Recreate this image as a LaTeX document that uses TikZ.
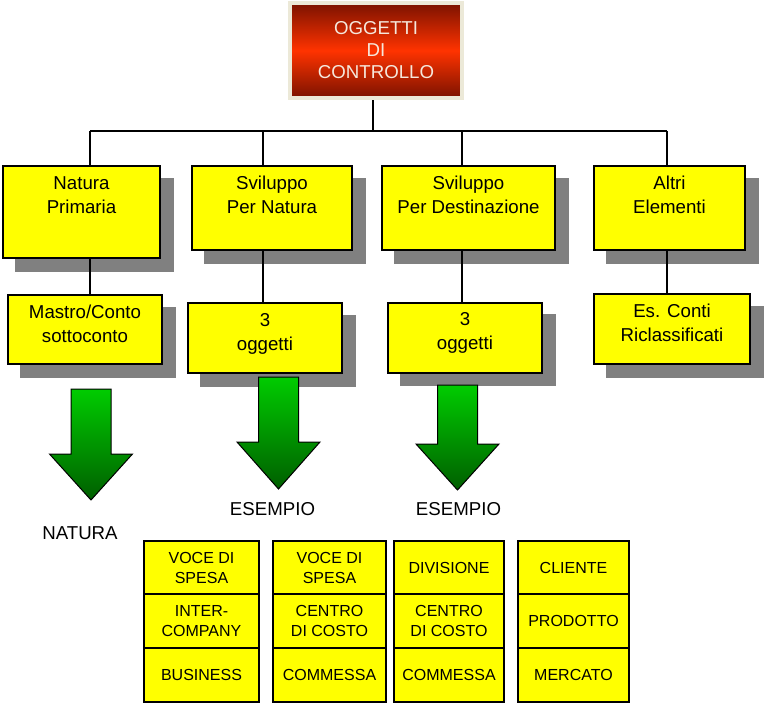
\documentclass[tikz,border=0pt]{standalone}
\usepackage{fontspec}
\setmainfont{Liberation Sans}
\usetikzlibrary{shadows}
\definecolor{boxyellow}{HTML}{FFFF00}
\definecolor{shadowgray}{HTML}{808080}
\definecolor{framebeige}{HTML}{ECE9D8}
\definecolor{reddark}{HTML}{7A1200}
\definecolor{redlight}{HTML}{FF3300}
\definecolor{greenlight}{HTML}{00CC00}
\definecolor{greendark}{HTML}{005E00}
\definecolor{titletext}{HTML}{F6E8DC}
\tikzset{
  capbox/.style={draw, line width=1.5pt, fill=boxyellow, inner sep=0pt,
    general shadow={fill=shadowgray, draw=shadowgray, line width=1.5pt,
      shadow xshift=9.5pt, shadow yshift=-9.5pt}},
  captext/.style={anchor=north, yshift=-5pt, align=center,
    font=\fontsize{14}{18}\selectfont},
  cell/.style={draw, line width=1.5pt, fill=boxyellow, minimum height=40.5pt,
    inner sep=0pt, align=center, font=\fontsize{12}{15}\selectfont},
  lbl/.style={font=\fontsize{14}{17}\selectfont},
  link/.style={line width=1.5pt},
  sublink/.style={line width=0.9pt}
}
\begin{document}
\begin{tikzpicture}[x=0.75pt, y=-0.75pt]
\useasboundingbox (0,0) rectangle (765,703);
% title
\node[draw=framebeige, line width=3pt, top color=reddark, bottom color=reddark,
  middle color=redlight, minimum width=129pt, minimum height=71.6pt, align=center,
  text=titletext, font=\fontsize{14}{16.5}\selectfont] (root) at (376,50.5)
  {OGGETTI\\DI\\CONTROLLO};

% first row
\node[capbox, minimum width=117.75pt, minimum height=69pt] (np) at (81.5,212) {};
\node[capbox, minimum width=120pt, minimum height=63pt] (sn) at (272,208) {};
\node[capbox, minimum width=129.75pt, minimum height=63pt] (sd) at (468.5,208) {};
\node[capbox, minimum width=113.25pt, minimum height=63pt] (ae) at (669.5,208) {};
\node[captext] (npt) at (np.north) {Natura\\Primaria};
\node[captext] (snt) at (sn.north) {Sviluppo\\Per Natura};
\node[captext] (sdt) at (sd.north) {Sviluppo\\Per Destinazione};
\node[captext] (aet) at (ae.north) {Altri\\Elementi};

% second row
\node[capbox, minimum width=115.5pt, minimum height=51.75pt] (mc) at (85,329.5) {};
\node[capbox, minimum width=115.5pt, minimum height=52.5pt] (on) at (265,338) {};
\node[capbox, minimum width=115.5pt, minimum height=52.5pt] (od) at (465,337.5) {};
\node[capbox, minimum width=117pt, minimum height=52.5pt] (ec) at (672,329) {};
\node[captext] (mct) at (mc.north) {Mastro/Conto\\sottoconto};
\node[captext] (ont) at (on.north) {3\\oggetti};
\node[captext] (odt) at (od.north) {3\\oggetti};
\node[captext] (ect) at (ec.north) {Es. Conti\\Riclassificati};

% connectors
\coordinate (bus) at (373,131);
\coordinate (j1) at (90,131);
\coordinate (j2) at (263,131);
\coordinate (j3) at (462,131);
\coordinate (j4) at (667,131);
\draw[link] (bus |- root.south) -- (bus);
\draw[link] (j1) -- (j4);
\foreach \j/\a/\b in {j1/np/mc, j2/sn/on, j3/sd/od, j4/ae/ec}
{
    \draw[link] (\j) -- (\j |- \a.north);
    \draw[sublink] (\j |- \a.south) -- (\j |- \b.north);
}

% arrows
\foreach \x/\t/\h/\b in {91/389/454/500, 278.5/377/442/489, 457.5/385/444/490}
{
    \draw[line width=0.75pt, top color=greenlight, bottom color=greendark]
      (\x-20,\t) -- (\x+20,\t) -- (\x+20,\h) -- (\x+41.5,\h) -- (\x,\b)
      -- (\x-41.5,\h) -- (\x-20,\h) -- cycle;
}
\node[lbl] (nat) at (80,533) {NATURA};
\node[lbl] (es1) at (272.5,509) {ESEMPIO};
\node[lbl] (es2) at (458.5,509) {ESEMPIO};

% examples
\foreach \c/\x/\w/\ra/\rb/\rc in {1/201.5/86.25/{VOCE DI\\SPESA}/{INTER-\\COMPANY}/BUSINESS,
  2/329.5/84.75/{VOCE DI\\SPESA}/{CENTRO\\DI COSTO}/COMMESSA,
  3/449/82.5/DIVISIONE/{CENTRO\\DI COSTO}/COMMESSA,
  4/573.5/83.25/CLIENTE/PRODOTTO/MERCATO}
{
    \node[cell, minimum width=\w pt] (c\c-a) at (\x,567.5) {\ra};
    \node[cell, minimum width=\w pt] (c\c-b) at (\x,621) {\rb};
    \node[cell, minimum width=\w pt] (c\c-c) at (\x,674.5) {\rc};
}
\end{tikzpicture}
\end{document}
